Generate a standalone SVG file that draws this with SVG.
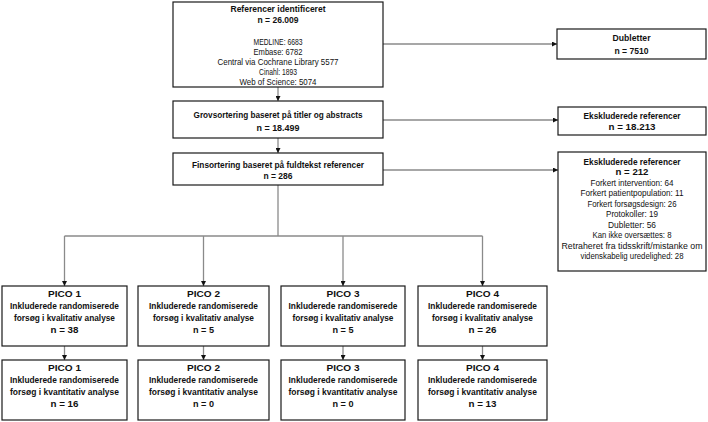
<svg xmlns="http://www.w3.org/2000/svg" width="708" height="422" viewBox="0 0 708 422">
<style>
.box{fill:#fff;stroke:#1a1a1a;stroke-width:1.2}
.b{font-family:"Liberation Sans",Arial,sans-serif;font-weight:bold;font-size:9.2px;text-anchor:middle;fill:#111}
.r{font-family:"Liberation Sans",Arial,sans-serif;font-size:8.4px;text-anchor:middle;fill:#111}
.c{fill:none;stroke:#8a8a8a;stroke-width:1.3}
</style>
<defs>
<marker id="ah" viewBox="0 0 10 10" refX="10" refY="5" markerWidth="5" markerHeight="5" markerUnits="userSpaceOnUse" orient="auto">
<path d="M0,0 L10,5 L0,10 z" fill="#111"/>
</marker>
</defs>
<rect width="708" height="422" fill="#fff"/>
<g id="connectors">
<path class="c" d="M278,87 V101" marker-end="url(#ah)"/>
<path class="c" d="M278,138 V153" marker-end="url(#ah)"/>
<path class="c" d="M383,44 H557" marker-end="url(#ah)"/>
<path class="c" d="M383,120 H558" marker-end="url(#ah)"/>
<path class="c" d="M383,170 H558" marker-end="url(#ah)"/>
<path class="c" d="M278,185 V236"/>
<path class="c" d="M64.5,236 H482.5"/>
<path class="c" d="M64.5,236 V286" marker-end="url(#ah)"/>
<path class="c" d="M203.5,236 V286" marker-end="url(#ah)"/>
<path class="c" d="M343,236 V286" marker-end="url(#ah)"/>
<path class="c" d="M482.5,236 V286" marker-end="url(#ah)"/>
<path class="c" d="M64.5,346 V360" marker-end="url(#ah)"/>
<path class="c" d="M203.5,346 V360" marker-end="url(#ah)"/>
<path class="c" d="M343,346 V360" marker-end="url(#ah)"/>
<path class="c" d="M482.5,346 V360" marker-end="url(#ah)"/>
</g>
<g id="identified">
<rect class="box" x="173" y="2" width="210" height="85"/>
<text class="b" x="278" y="11.5" textLength="95" lengthAdjust="spacingAndGlyphs">Referencer identificeret</text>
<text class="b" x="278" y="22.5" textLength="41" lengthAdjust="spacingAndGlyphs">n = 26.009</text>
<text class="r" x="278" y="45" textLength="49" lengthAdjust="spacingAndGlyphs">MEDLINE: 6683</text>
<text class="r" x="278" y="55" textLength="49" lengthAdjust="spacingAndGlyphs">Embase: 6782</text>
<text class="r" x="278" y="65" textLength="121" lengthAdjust="spacingAndGlyphs">Central via Cochrane Library 5577</text>
<text class="r" x="278" y="75" textLength="38" lengthAdjust="spacingAndGlyphs">Cinahl: 1893</text>
<text class="r" x="278" y="84.5" textLength="77" lengthAdjust="spacingAndGlyphs">Web of Science: 5074</text>
</g>
<g id="dubletter">
<rect class="box" x="557" y="29" width="149" height="30"/>
<text class="b" x="631.5" y="41" textLength="38" lengthAdjust="spacingAndGlyphs">Dubletter</text>
<text class="b" x="631.5" y="54" textLength="34" lengthAdjust="spacingAndGlyphs">n = 7510</text>
</g>
<g id="grovsortering">
<rect class="box" x="173" y="101" width="210" height="37"/>
<text class="b" x="278" y="117.5" textLength="169" lengthAdjust="spacingAndGlyphs">Grovsortering baseret på titler og abstracts</text>
<text class="b" x="278" y="130.5" textLength="43" lengthAdjust="spacingAndGlyphs">n = 18.499</text>
</g>
<g id="eksk1">
<rect class="box" x="558" y="107" width="148" height="28"/>
<text class="b" x="632" y="118.5" textLength="97" lengthAdjust="spacingAndGlyphs">Ekskluderede referencer</text>
<text class="b" x="632" y="129.5" textLength="47" lengthAdjust="spacingAndGlyphs">n = 18.213</text>
</g>
<g id="finsortering">
<rect class="box" x="173" y="153" width="210" height="32"/>
<text class="b" x="278" y="167.5" textLength="172" lengthAdjust="spacingAndGlyphs">Finsortering baseret på fuldtekst referencer</text>
<text class="b" x="278" y="179" textLength="29" lengthAdjust="spacingAndGlyphs">n = 286</text>
</g>
<g id="eksk2">
<rect class="box" x="558" y="152" width="148" height="119"/>
<text class="b" x="632" y="164.5" textLength="97" lengthAdjust="spacingAndGlyphs">Ekskluderede referencer</text>
<text class="b" x="632" y="175" textLength="33" lengthAdjust="spacingAndGlyphs" style="font-size:9.6px">n = 212</text>
<text class="r" x="632" y="185.5" textLength="83" lengthAdjust="spacingAndGlyphs">Forkert intervention: 64</text>
<text class="r" x="632" y="196" textLength="103" lengthAdjust="spacingAndGlyphs">Forkert patientpopulation: 11</text>
<text class="r" x="632" y="206.5" textLength="89" lengthAdjust="spacingAndGlyphs">Forkert forsøgsdesign: 26</text>
<text class="r" x="632" y="217" textLength="52" lengthAdjust="spacingAndGlyphs">Protokoller: 19</text>
<text class="r" x="632" y="227.5" textLength="48" lengthAdjust="spacingAndGlyphs">Dubletter: 56</text>
<text class="r" x="632" y="238" textLength="79" lengthAdjust="spacingAndGlyphs">Kan ikke oversættes: 8</text>
<text class="r" x="632" y="248.5" textLength="141" lengthAdjust="spacingAndGlyphs">Retraheret  fra tidsskrift/mistanke om</text>
<text class="r" x="632" y="259" textLength="103" lengthAdjust="spacingAndGlyphs">videnskabelig uredelighed: 28</text>
</g>
<g id="pico1a">
<rect class="box" x="2" y="286" width="125" height="60"/>
<text class="b" x="64.5" y="296.5" textLength="33" lengthAdjust="spacingAndGlyphs">PICO 1</text>
<text class="b" x="64.5" y="308.5" textLength="109" lengthAdjust="spacingAndGlyphs">Inkluderede randomiserede</text>
<text class="b" x="64.5" y="320.5" textLength="101" lengthAdjust="spacingAndGlyphs">forsøg i kvalitativ analyse</text>
<text class="b" x="64.5" y="332.5" textLength="28" lengthAdjust="spacingAndGlyphs">n = 38</text>
</g>
<g id="pico2a">
<rect class="box" x="138" y="286" width="131" height="60"/>
<text class="b" x="203.5" y="296.5" textLength="33" lengthAdjust="spacingAndGlyphs">PICO 2</text>
<text class="b" x="203.5" y="308.5" textLength="109" lengthAdjust="spacingAndGlyphs">Inkluderede randomiserede</text>
<text class="b" x="203.5" y="320.5" textLength="101" lengthAdjust="spacingAndGlyphs">forsøg i kvalitativ analyse</text>
<text class="b" x="203.5" y="332.5" textLength="21" lengthAdjust="spacingAndGlyphs">n = 5</text>
</g>
<g id="pico3a">
<rect class="box" x="281" y="286" width="124" height="60"/>
<text class="b" x="343" y="296.5" textLength="33" lengthAdjust="spacingAndGlyphs">PICO 3</text>
<text class="b" x="343" y="308.5" textLength="109" lengthAdjust="spacingAndGlyphs">Inkluderede randomiserede</text>
<text class="b" x="343" y="320.5" textLength="101" lengthAdjust="spacingAndGlyphs">forsøg i kvalitativ analyse</text>
<text class="b" x="343" y="332.5" textLength="21" lengthAdjust="spacingAndGlyphs">n = 5</text>
</g>
<g id="pico4a">
<rect class="box" x="418" y="286" width="129" height="60"/>
<text class="b" x="482.5" y="296.5" textLength="33" lengthAdjust="spacingAndGlyphs">PICO 4</text>
<text class="b" x="482.5" y="308.5" textLength="109" lengthAdjust="spacingAndGlyphs">Inkluderede randomiserede</text>
<text class="b" x="482.5" y="320.5" textLength="101" lengthAdjust="spacingAndGlyphs">forsøg i kvalitativ analyse</text>
<text class="b" x="482.5" y="332.5" textLength="28" lengthAdjust="spacingAndGlyphs">n = 26</text>
</g>
<g id="pico1b">
<rect class="box" x="2" y="360" width="125" height="60"/>
<text class="b" x="64.5" y="370.5" textLength="33" lengthAdjust="spacingAndGlyphs">PICO 1</text>
<text class="b" x="64.5" y="382.5" textLength="109" lengthAdjust="spacingAndGlyphs">Inkluderede randomiserede</text>
<text class="b" x="64.5" y="394.5" textLength="109" lengthAdjust="spacingAndGlyphs">forsøg i kvantitativ analyse</text>
<text class="b" x="64.5" y="406.5" textLength="28" lengthAdjust="spacingAndGlyphs">n = 16</text>
</g>
<g id="pico2b">
<rect class="box" x="138" y="360" width="131" height="60"/>
<text class="b" x="203.5" y="370.5" textLength="33" lengthAdjust="spacingAndGlyphs">PICO 2</text>
<text class="b" x="203.5" y="382.5" textLength="109" lengthAdjust="spacingAndGlyphs">Inkluderede randomiserede</text>
<text class="b" x="203.5" y="394.5" textLength="109" lengthAdjust="spacingAndGlyphs">forsøg i kvantitativ analyse</text>
<text class="b" x="203.5" y="406.5" textLength="21" lengthAdjust="spacingAndGlyphs">n = 0</text>
</g>
<g id="pico3b">
<rect class="box" x="281" y="360" width="124" height="60"/>
<text class="b" x="343" y="370.5" textLength="33" lengthAdjust="spacingAndGlyphs">PICO 3</text>
<text class="b" x="343" y="382.5" textLength="109" lengthAdjust="spacingAndGlyphs">Inkluderede randomiserede</text>
<text class="b" x="343" y="394.5" textLength="109" lengthAdjust="spacingAndGlyphs">forsøg i kvantitativ analyse</text>
<text class="b" x="343" y="406.5" textLength="21" lengthAdjust="spacingAndGlyphs">n = 0</text>
</g>
<g id="pico4b">
<rect class="box" x="418" y="360" width="129" height="60"/>
<text class="b" x="482.5" y="370.5" textLength="33" lengthAdjust="spacingAndGlyphs">PICO 4</text>
<text class="b" x="482.5" y="382.5" textLength="109" lengthAdjust="spacingAndGlyphs">Inkluderede randomiserede</text>
<text class="b" x="482.5" y="394.5" textLength="109" lengthAdjust="spacingAndGlyphs">forsøg i kvantitativ analyse</text>
<text class="b" x="482.5" y="406.5" textLength="28" lengthAdjust="spacingAndGlyphs">n = 13</text>
</g>
</svg>
